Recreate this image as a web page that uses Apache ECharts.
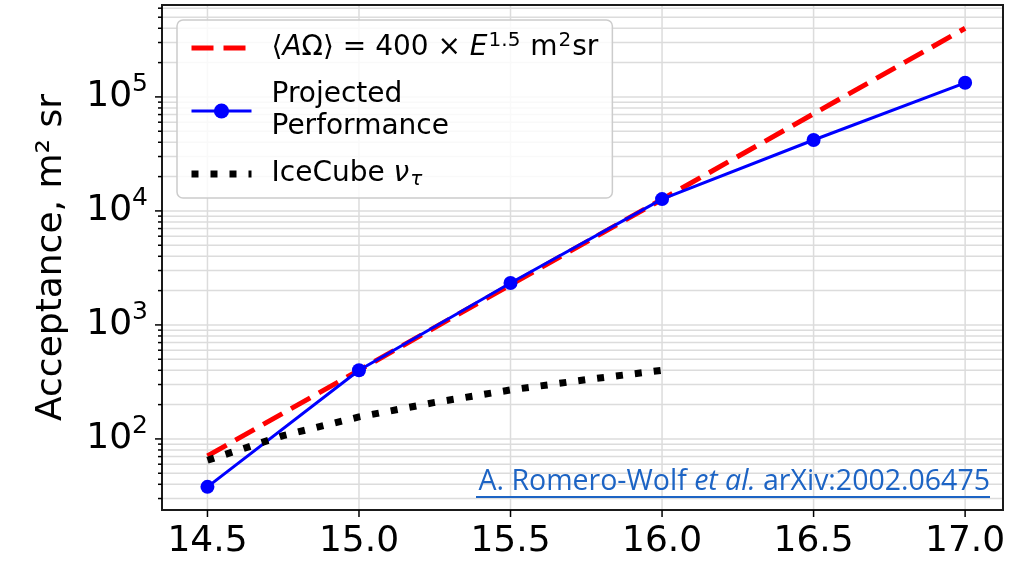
<!DOCTYPE html>
<html>
<head>
<meta charset="utf-8">
<script src="https://cdn.jsdelivr.net/npm/echarts@6/dist/echarts.min.js"></script>
<style>
  html, body { margin: 0; padding: 0; background: #fff; }
  #chart { width: 1019px; height: 561px; }
</style>
</head>
<body>
<div id="chart"></div>
<script>
var chart = echarts.init(document.getElementById("chart"));

// axis ranges (log10 energy in eV, acceptance in m^2 sr)
var xMin = 14.35, xMax = 17.125;
var yMin = 23.8, yMax = 640000;

// data
var energies = [14.5, 15.0, 15.5, 16.0, 16.5, 17.0];
var scalingLaw = [71, 400, 2250, 12650, 71100, 400000];   // 400 x E^1.5
var projected = [38, 400, 2330, 12700, 41900, 133000];
var icecubeE = [14.5, 14.75, 15.0, 15.25, 15.5, 15.75, 16.0];
var icecube = [65, 107, 156, 209, 269, 331, 400];

var xTicks = [14.5, 15.0, 15.5, 16.0, 16.5, 17.0];
var yMajor = [100, 1000, 10000, 100000];
var yMinor = [30, 40, 50, 60, 70, 80, 90,
              200, 300, 400, 500, 600, 700, 800, 900,
              2000, 3000, 4000, 5000, 6000, 7000, 8000, 9000,
              20000, 30000, 40000, 50000, 60000, 70000, 80000, 90000,
              200000, 300000, 400000, 500000, 600000];

var gridColor = "#dcdcdc";
var font = "DejaVu Sans";
var linkColor = "#1d64c4";

var lawStyle = { color: "#ff0000", width: 5, type: [22, 10] };
var projStyle = { color: "#0000ff", width: 3 };
var iceStyle = { color: "#000000", width: 7, type: [7, 12] };

function pairs(xs, ys) {
    return xs.map(function (x, i) { return [x, ys[i]]; });
}

var yTickData = yMajor.map(function (v) { return [xMin, v, 1]; })
    .concat(yMinor.map(function (v) { return [xMin, v, 0]; }));
var xTickData = xTicks.map(function (v) { return [v, yMin]; });

var legendNames = {
    law: "{f|⟨}{i|A}{t|Ω⟩ = 400 × }{i|E}{s|1.5}{t| m}{s|2}{t|sr}",
    proj: "{f|Projected}\n{f|Performance}",
    ice: "{f|IceCube }{i|ν}{b|τ}"
};

var option = {
    backgroundColor: "#fff",
    animation: false,
    grid: {
        left: 162, right: 16, top: 5, bottom: 51,
        show: true, borderColor: "#1a1a1a", borderWidth: 2,
        backgroundColor: "transparent"
    },
    xAxis: {
        type: "value", min: xMin, max: xMax,
        axisLine: { show: false },
        axisTick: { show: false },
        splitLine: { show: false },
        axisLabel: {
            margin: 14, color: "#000", fontFamily: font, fontSize: 36,
            showMinLabel: false, showMaxLabel: false,
            formatter: function (v) {
                return Math.abs(v * 2 - Math.round(v * 2)) < 1e-6 ? v.toFixed(1) : "";
            }
        }
    },
    yAxis: {
        type: "log", min: yMin, max: yMax, logBase: 10,
        name: "Acceptance, m² sr", nameLocation: "middle", nameGap: 92,
        nameTextStyle: { color: "#000", fontFamily: font, fontSize: 36 },
        axisLine: { show: false },
        axisTick: { show: false },
        splitLine: { show: false },
        axisLabel: {
            margin: 14, color: "#000",
            formatter: function (v) {
                var e = Math.log10(v);
                if (Math.abs(e - Math.round(e)) > 1e-6) return "";
                return "{b|10}{s|" + Math.round(e) + "}";
            },
            rich: {
                b: { fontFamily: font, fontSize: 36, color: "#000" },
                s: { fontFamily: font, fontSize: 25, color: "#000", verticalAlign: "bottom", padding: [0, 0, 24, 0] }
            }
        }
    },
    legend: {
        orient: "vertical", left: 177, top: 20,
        padding: [11, 14, 8, 11],
        itemGap: 15, itemWidth: 60, itemHeight: 19,
        backgroundColor: "rgba(255,255,255,0.82)",
        borderColor: "#cccccc", borderWidth: 1.5, borderRadius: 6,
        data: [
            { name: "law", itemStyle: { opacity: 0 }, lineStyle: lawStyle },
            { name: "proj", lineStyle: projStyle },
            { name: "ice", itemStyle: { opacity: 0 }, lineStyle: iceStyle }
        ],
        formatter: function (name) { return legendNames[name]; },
        textStyle: {
            color: "#000", fontFamily: font, fontSize: 28, lineHeight: 32,
            rich: {
                f: { fontFamily: font, fontSize: 28, lineHeight: 32, padding: [0, 0, 0, 15] },
                t: { fontFamily: font, fontSize: 28, lineHeight: 32 },
                i: { fontFamily: font, fontSize: 28, lineHeight: 32, fontStyle: "italic" },
                s: { fontFamily: font, fontSize: 20, lineHeight: 32, verticalAlign: "bottom", padding: [0, 1, 13, 1] },
                b: { fontFamily: font, fontSize: 20, lineHeight: 32, fontStyle: "italic", verticalAlign: "top", padding: [12, 0, 0, 1] }
            }
        }
    },
    graphic: [
        {
            type: "text", z: 10,
            style: {
                x: 990, y: 482, align: "right", verticalAlign: "middle",
                text: "{t|A. Romero-Wolf }{i|et al.}{t| arXiv:2002.06475}",
                rich: {
                    t: { fontFamily: "Open Sans", fontSize: 28.5, fill: linkColor },
                    i: { fontFamily: "Open Sans", fontSize: 28.5, fontStyle: "italic", fill: linkColor }
                }
            }
        },
        {
            type: "rect", z: 10,
            shape: { x: 476, y: 496, width: 514, height: 2 },
            style: { fill: linkColor }
        }
    ],
    series: [
        {
            type: "custom", name: "ygrid", silent: true, clip: false, z: 0,
            data: yTickData,
            encode: { x: 0, y: 1 },
            renderItem: function (params, api) {
                var p = api.coord([xMin, api.value(1)]);
                var q = api.coord([xMax, api.value(1)]);
                var len = api.value(2) ? 7 : 4;
                return {
                    type: "group",
                    children: [
                        { type: "line", shape: { x1: p[0] + 1, y1: p[1], x2: q[0] - 1, y2: p[1] },
                          style: { stroke: gridColor, lineWidth: 1.5 } },
                        { type: "line", shape: { x1: p[0] - len, y1: p[1], x2: p[0], y2: p[1] },
                          style: { stroke: "#000", lineWidth: 1.5 } }
                    ]
                };
            }
        },
        {
            type: "custom", name: "xgrid", silent: true, clip: false, z: 0,
            data: xTickData,
            encode: { x: 0, y: 1 },
            renderItem: function (params, api) {
                var p = api.coord([api.value(0), yMin]);
                var q = api.coord([api.value(0), yMax]);
                return {
                    type: "group",
                    children: [
                        { type: "line", shape: { x1: p[0], y1: p[1] - 1, x2: p[0], y2: q[1] + 1 },
                          style: { stroke: gridColor, lineWidth: 1.5 } },
                        { type: "line", shape: { x1: p[0], y1: p[1], x2: p[0], y2: p[1] + 7 },
                          style: { stroke: "#000", lineWidth: 1.5 } }
                    ]
                };
            }
        },
        {
            type: "line", name: "law", data: pairs(energies, scalingLaw),
            symbol: "none", z: 3,
            lineStyle: lawStyle,
            itemStyle: { color: "#ff0000" }
        },
        {
            type: "line", name: "proj", data: pairs(energies, projected),
            symbol: "circle", symbolSize: 14, z: 4,
            lineStyle: projStyle,
            itemStyle: { color: "#0000ff" }
        },
        {
            type: "line", name: "ice", data: pairs(icecubeE, icecube),
            symbol: "none", z: 5,
            lineStyle: iceStyle,
            itemStyle: { color: "#000000" }
        }
    ]
};

chart.setOption(option);
</script>
</body>
</html>
